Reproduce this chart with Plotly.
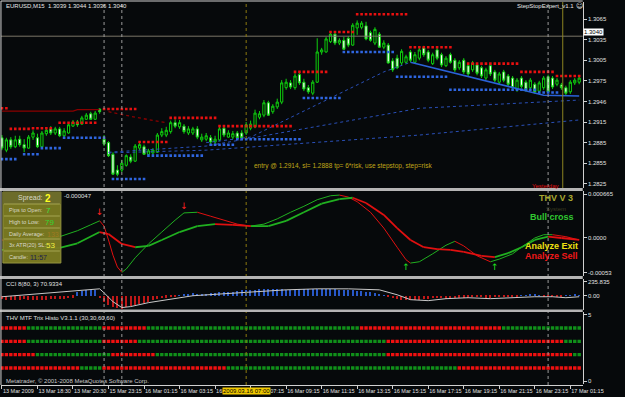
import plotly.graph_objects as go

W, H = 625, 397
BG = "#06090b"
FONT = "Liberation Sans"

# ---------------- data ----------------
bars = list(range(131))
tick_bars = [0, 8, 16, 24, 32, 40, 48, 56, 64, 72, 80, 88, 96, 104, 112, 120, 128]
tick_labels = ["13 Mar 2009", "13 Mar 18:30", "13 Mar 20:30", "15 Mar 23:15", "16 Mar 01:15",
               "16 Mar 03:15", "16 Mar 05:15", "16 Mar 07:15", "16 Mar 09:15", "16 Mar 11:15",
               "16 Mar 13:15", "16 Mar 15:15", "16 Mar 17:15", "16 Mar 19:15", "16 Mar 21:15",
               "16 Mar 23:15", "17 Mar 01:15"]

open_ = [1.2892, 1.2874, 1.2889, 1.2879, 1.2890, 1.2882, 1.2877, 1.2893, 1.2892, 1.2879,
         1.2898, 1.2905, 1.2899, 1.2905, 1.2895, 1.2899, 1.2909, 1.2915, 1.2912, 1.2919,
         1.2927, 1.2919, 1.2934, 1.2890, 1.2885, 1.2868, 1.2845, 1.2845, 1.2852, 1.2864,
         1.2858, 1.2877, 1.2879, 1.2868, 1.2870, 1.2871, 1.2896, 1.2896, 1.2901, 1.2914,
         1.2908, 1.2909, 1.2899, 1.2899, 1.2905, 1.2889, 1.2890, 1.2892, 1.2886, 1.2889,
         1.2906, 1.2893, 1.2893, 1.2899, 1.2899, 1.2899, 1.2906, 1.2908, 1.2922, 1.2925,
         1.2943, 1.2930, 1.2937, 1.2944, 1.2965, 1.2972, 1.2965, 1.2984, 1.2973, 1.2965,
         1.2957, 1.2973, 1.3017, 1.3017, 1.3032, 1.3043, 1.3030, 1.3034, 1.3037, 1.3027,
         1.3052, 1.3053, 1.3055, 1.3045, 1.3030, 1.3043, 1.3024, 1.3027, 1.3004, 1.3008,
         1.3001, 1.3002, 1.3017, 1.3002, 1.3008, 1.3023, 1.3017, 1.3000, 1.3020, 1.3013,
         1.2997, 1.3013, 1.3005, 1.2994, 1.3005, 1.2997, 1.2991, 1.2998, 1.2994, 1.2979,
         1.2997, 1.2988, 1.2973, 1.2988, 1.2982, 1.2979, 1.2962, 1.2979, 1.2973, 1.2965,
         1.2970, 1.2960, 1.2965, 1.2981, 1.2979, 1.2970, 1.2969, 1.2965, 1.2959, 1.2972,
         1.2973]
high = [1.2896, 1.2892, 1.2893, 1.2895, 1.2895, 1.2890, 1.2896, 1.2903, 1.2898, 1.2902,
        1.2906, 1.2909, 1.2908, 1.2908, 1.2906, 1.2914, 1.2918, 1.2918, 1.2924, 1.2928,
        1.2930, 1.2931, 1.2935, 1.2896, 1.2887, 1.2871, 1.2852, 1.2860, 1.2868, 1.2868,
        1.2883, 1.2885, 1.2882, 1.2876, 1.2877, 1.2899, 1.2906, 1.2908, 1.2917, 1.2919,
        1.2918, 1.2912, 1.2909, 1.2908, 1.2909, 1.2898, 1.2899, 1.2896, 1.2895, 1.2908,
        1.2909, 1.2903, 1.2902, 1.2902, 1.2903, 1.2915, 1.2917, 1.2933, 1.2931, 1.2947,
        1.2946, 1.2941, 1.2949, 1.2976, 1.2978, 1.2976, 1.2986, 1.2988, 1.2978, 1.2969,
        1.2976, 1.3037, 1.3023, 1.3039, 1.3046, 1.3046, 1.3037, 1.3039, 1.3040, 1.3059,
        1.3063, 1.3062, 1.3061, 1.3048, 1.3053, 1.3046, 1.3034, 1.3030, 1.3008, 1.3013,
        1.3021, 1.3013, 1.3020, 1.3017, 1.3023, 1.3026, 1.3020, 1.3016, 1.3023, 1.3016,
        1.3011, 1.3016, 1.3008, 1.3005, 1.3008, 1.3000, 1.3004, 1.3001, 1.2997, 1.2994,
        1.3000, 1.2991, 1.2988, 1.2991, 1.2985, 1.2982, 1.2979, 1.2982, 1.2976, 1.2979,
        1.2973, 1.2975, 1.2982, 1.2984, 1.2982, 1.2979, 1.2972, 1.2968, 1.2976, 1.2979,
        1.2982]
low = [1.2874, 1.2871, 1.2876, 1.2877, 1.2879, 1.2871, 1.2876, 1.2889, 1.2877, 1.2877,
       1.2895, 1.2896, 1.2896, 1.2893, 1.2892, 1.2898, 1.2908, 1.2908, 1.2911, 1.2918,
       1.2918, 1.2918, 1.2927, 1.2880, 1.2864, 1.2838, 1.2836, 1.2842, 1.2850, 1.2855,
       1.2857, 1.2874, 1.2867, 1.2866, 1.2867, 1.2870, 1.2893, 1.2893, 1.2898, 1.2906,
       1.2905, 1.2898, 1.2896, 1.2896, 1.2890, 1.2886, 1.2887, 1.2883, 1.2883, 1.2887,
       1.2893, 1.2892, 1.2890, 1.2889, 1.2889, 1.2896, 1.2903, 1.2906, 1.2919, 1.2922,
       1.2924, 1.2927, 1.2934, 1.2941, 1.2962, 1.2963, 1.2962, 1.2969, 1.2960, 1.2956,
       1.2954, 1.2972, 1.3013, 1.3016, 1.3030, 1.3027, 1.3027, 1.3020, 1.3024, 1.3026,
       1.3042, 1.3050, 1.3034, 1.3032, 1.3027, 1.3023, 1.3021, 1.3000, 1.2988, 1.2992,
       1.2998, 1.3000, 1.3002, 1.3000, 1.3005, 1.3010, 1.3002, 1.2998, 1.3005, 1.2995,
       1.2995, 1.3000, 1.2988, 1.2991, 1.2985, 1.2982, 1.2988, 1.2983, 1.2979, 1.2976,
       1.2982, 1.2973, 1.2970, 1.2973, 1.2967, 1.2962, 1.2959, 1.2964, 1.2959, 1.2962,
       1.2956, 1.2957, 1.2962, 1.2957, 1.2963, 1.2967, 1.2962, 1.2954, 1.2956, 1.2969,
       1.2970]
close = [1.2877, 1.2889, 1.2879, 1.2889, 1.2882, 1.2877, 1.2893, 1.2899, 1.2879, 1.2899,
         1.2903, 1.2899, 1.2905, 1.2895, 1.2902, 1.2911, 1.2915, 1.2911, 1.2921, 1.2925,
         1.2919, 1.2928, 1.2930, 1.2883, 1.2866, 1.2839, 1.2839, 1.2855, 1.2866, 1.2858,
         1.2880, 1.2882, 1.2868, 1.2873, 1.2874, 1.2896, 1.2901, 1.2903, 1.2914, 1.2909,
         1.2914, 1.2901, 1.2905, 1.2905, 1.2893, 1.2893, 1.2895, 1.2886, 1.2890, 1.2905,
         1.2896, 1.2899, 1.2898, 1.2892, 1.2892, 1.2911, 1.2912, 1.2928, 1.2927, 1.2943,
         1.2925, 1.2938, 1.2944, 1.2972, 1.2973, 1.2966, 1.2982, 1.2972, 1.2963, 1.2959,
         1.2973, 1.3017, 1.3020, 1.3036, 1.3043, 1.3030, 1.3034, 1.3021, 1.3027, 1.3056,
         1.3059, 1.3059, 1.3036, 1.3034, 1.3050, 1.3024, 1.3030, 1.3001, 1.2991, 1.2994,
         1.3018, 1.3010, 1.3005, 1.3013, 1.3020, 1.3013, 1.3005, 1.3013, 1.3008, 1.2998,
         1.3008, 1.3002, 1.2991, 1.3002, 1.2988, 1.2985, 1.3001, 1.2986, 1.2982, 1.2991,
         1.2985, 1.2976, 1.2985, 1.2976, 1.2970, 1.2965, 1.2976, 1.2967, 1.2962, 1.2976,
         1.2959, 1.2972, 1.2979, 1.2959, 1.2966, 1.2976, 1.2965, 1.2957, 1.2973, 1.2976,
         1.2979]

price_ticks = [1.3065, 1.3035, 1.3005, 1.2975, 1.2945, 1.2915, 1.2885, 1.2855, 1.2825]
price_labels = ["1.3065", "1.3035", "1.3005", "1.2975", "1.2946", "1.2915", "1.2885", "1.2855", "1.2825"]
bid_price = 1.3040

# stepstop levels: (first bar, last bar, price)
stop_upper = [(0, 1, 1.2935), (2, 6, 1.2905), (7, 11, 1.2906), (13, 21, 1.2914), (23, 30, 1.2934),
              (31, 37, 1.2886), (38, 48, 1.2921), (49, 65, 1.2909), (66, 73, 1.2988), (74, 79, 1.3046),
              (80, 91, 1.3072), (92, 101, 1.3024), (105, 116, 1.3000), (117, 124, 1.2988), (125, 130, 1.2982)]
stop_lower = [(0, 3, 1.2861), (5, 8, 1.2868), (9, 13, 1.2877), (14, 23, 1.2892), (25, 32, 1.2832),
              (33, 45, 1.2866), (47, 52, 1.2882), (53, 67, 1.2890), (68, 76, 1.2950), (77, 88, 1.3017),
              (89, 100, 1.2981), (101, 120, 1.2962), (121, 125, 1.2958)]
# dark red average line
red_avg_bars = [0, 16, 17, 22]
red_avg_vals = [1.2931, 1.2931, 1.2933, 1.2933]
red_avg2_bars = [24, 30, 37]
red_avg2_vals = [1.2930, 1.2922, 1.2914]
# blue averages
ma1_bars = [24, 46, 94, 130]
ma1_vals = [1.2870, 1.2874, 1.2896, 1.2918]
ma2_bars = [24, 46, 94, 130]
ma2_vals = [1.2871, 1.2880, 1.2935, 1.2947]
ma3_bars = [46, 56, 86, 92]
ma3_vals = [1.2885, 1.2893, 1.2988, 1.3002]
trend_bars = [92, 122, 130]
trend_vals = [1.3002, 1.2954, 1.2953]

# THV V3 panel
thv_bars = [0, 4, 8, 13, 17, 20, 22, 23, 24, 25, 26, 27, 28, 30, 33, 36, 39, 41, 44, 47, 50, 53, 56,
            59, 62, 65, 68, 71, 74, 76, 78, 80, 83, 86, 89, 91, 92, 94, 97, 100, 102, 104, 107, 110,
            112, 115, 117, 120, 122, 124, 127, 130]
thv_fast = [-0.00003, -0.00005, -0.00002, 0.00002, 0.00011, 0.00020, 0.00026, 0.00018, -0.00003,
            -0.00026, -0.00044, -0.00052, -0.00047, -0.00030, -0.00009, 0.00009, 0.00027, 0.00038,
            0.00039, 0.00033, 0.00027, 0.00021, 0.00018, 0.00021, 0.00029, 0.00039, 0.00048, 0.00058,
            0.00064, 0.00065, 0.00062, 0.00055, 0.00039, 0.00015, -0.00014, -0.00033, -0.00038,
            -0.00036, -0.00024, -0.00011, -0.00005, -0.00012, -0.00027, -0.00036, -0.00032,
            -0.00024, -0.00014, 0.00000, 0.00005, 0.00005, 0.00002, -0.00003]
thv_slow_bars = [0, 13, 17, 22, 24, 27, 30, 33, 36, 40, 44, 48, 52, 56, 60, 64, 68, 72, 76, 79, 82,
                 86, 89, 92, 95, 98, 101, 104, 108, 111, 114, 117, 120, 123, 126, 130]
thv_slow = [-0.00018, -0.00015, -0.00008, 0.00009, 0.00006, -0.00009, -0.00014, -0.00012,
            -0.00003, 0.00009, 0.00018, 0.00021, 0.00020, 0.00018, 0.00018, 0.00026, 0.00039,
            0.00052, 0.00059, 0.00061, 0.00053, 0.00035, 0.00015, -0.00003, -0.00014, -0.00017,
            -0.00018, -0.00021, -0.00027, -0.00029, -0.00023, -0.00014, -0.00003, 0.00002,
            0.00000, -0.00003]
sell_arrow_bars = [22, 41]
sell_arrow_vals = [0.00038, 0.00047]
buy_arrow_bars = [91, 111]
buy_arrow_vals = [-0.00045, -0.00045]
thv_ticks = [0.000665, 0.0, -0.00053]
thv_labels = ["0.000665", "0.0000", "-0.00053"]

# CCI panel
cci_bars = [0, 6, 13, 19, 22, 23, 25, 27, 29, 33, 37, 43, 50, 57, 64, 71, 78, 85, 89, 92, 96, 100,
            105, 110, 115, 120, 124, 127, 130]
cci_vals = [-17, 17, 67, 101, 118, 50, -101, -202, -185, -118, -67, 0, 34, 67, 101, 118, 118, 101,
            17, -67, -84, -50, -34, -50, -34, -17, -17, -34, -17]
cci_hist = [-60, -70, -80, -75, -70, -60, -65, -70, -75, -70, -65, -60, -55, -60, -50, -40, -30,
            60, 80, 90, 95, 100, -40, -100, -150, -200, -210, -220, -200, -180, -160, -140, -120,
            -100, -80, -60, -40, -30, -20, -10, 10, 20, 30, 40, 30, 20, 30, 40, 50, 60, 70, 60, 70,
            80, 90, 90, 100, 100, 110, 110, 120, 120, 110, 110, 100, 100, 100, 110, 120, 120, 110,
            110, 120, 120, 110, 110, 100, 100, 100, 90, 80, 80, 70, 60, 40, 20, 10, -10, -40, -60,
            -70, -80, -80, -80, -70, -60, -50, -40, -40, -40, -50, -50, -40, -30, -30, -30, -20,
            -20, -20, -30, -30, -20, -20, -20, -10, -10, -10, 10, 10, 20, 20, 10, -10, -20, -20,
            -20, -10, 10, 10, 20, 10]
cci_ticks = [235.835, 0.0, -235.403]
cci_labels = ["235.835", "0.00", "-235.403"]

# THV MTF Trix Histo rows: runs of (colour, bar count)
mtf_rows = [
    [("r", 6), ("g", 17), ("r", 10), ("g", 48), ("r", 32), ("g", 18)],
    [("r", 6), ("g", 17), ("r", 8), ("g", 56), ("r", 40), ("g", 4)],
    [("r", 8), ("g", 17), ("r", 10), ("g", 52), ("r", 42), ("g", 2)],
    [("r", 18), ("g", 5), ("r", 28), ("g", 52), ("r", 28)],
]
mtf_levels = [4, 3, 2, 1]

separator_bars = [23, 27, 123]
marker_bar = 55
marker_label = "2009.03.16 07:00"
expert_bar = 126.3

# ---------------- helpers ----------------
def X(px):
    return px / W


def Y(py):
    return 1 - py / H


def expand(segs):
    xs, ys = [], []
    for a, b, v in segs:
        for i in range(a, b + 1):
            xs.append(i)
            ys.append(v)
    return xs, ys


def split_dir(xs, vs):
    g = ([], [])
    r = ([], [])
    for i in range(len(xs) - 1):
        tgt = g if vs[i + 1] >= vs[i] else r
        tgt[0].extend([xs[i], xs[i + 1], None])
        tgt[1].extend([vs[i], vs[i + 1], None])
    return g, r


fig = go.Figure()

# ---------------- main price panel ----------------
fig.add_trace(go.Scatter(x=red_avg_bars, y=red_avg_vals, mode="lines", yaxis="y",
                         line=dict(color="#8a0000", width=1.3), hoverinfo="skip"))
fig.add_trace(go.Scatter(x=red_avg2_bars, y=red_avg2_vals, mode="lines", yaxis="y",
                         line=dict(color="#8a0000", width=1.3, dash="dot"), hoverinfo="skip"))
for bx, vy, wd in [(ma1_bars, ma1_vals, 1), (ma2_bars, ma2_vals, 1), (ma3_bars, ma3_vals, 1)]:
    fig.add_trace(go.Scatter(x=bx, y=vy, mode="lines", yaxis="y",
                             line=dict(color="#2a50b8", width=wd, dash="dot"), hoverinfo="skip"))
fig.add_trace(go.Scatter(x=trend_bars, y=trend_vals, mode="lines", yaxis="y",
                         line=dict(color="#2a62d8", width=1.6), hoverinfo="skip"))

ux, uy = expand(stop_upper)
lx, ly = expand(stop_lower)
fig.add_trace(go.Scatter(x=ux, y=uy, mode="markers", yaxis="y", hoverinfo="skip",
                         marker=dict(symbol="square", size=2.6, color="#e81010", line=dict(width=0))))
fig.add_trace(go.Scatter(x=lx, y=ly, mode="markers", yaxis="y", hoverinfo="skip",
                         marker=dict(symbol="square", size=2.6, color="#2f66e0", line=dict(width=0))))

fig.add_trace(go.Candlestick(x=bars, open=open_, high=high, low=low, close=close, yaxis="y",
                             increasing=dict(line=dict(color="#10d010", width=1), fillcolor="#000000"),
                             decreasing=dict(line=dict(color="#10d010", width=1), fillcolor="#ffffff"),
                             whiskerwidth=0, hoverinfo="skip"))

# ---------------- THV panel ----------------
for xs, vs, wd in [(thv_bars, thv_fast, 1.0), (thv_slow_bars, thv_slow, 1.8)]:
    g, r = split_dir(xs, vs)
    fig.add_trace(go.Scatter(x=g[0], y=g[1], mode="lines", yaxis="y2", hoverinfo="skip",
                             line=dict(color="#20b020", width=wd)))
    fig.add_trace(go.Scatter(x=r[0], y=r[1], mode="lines", yaxis="y2", hoverinfo="skip",
                             line=dict(color="#e01010", width=wd)))
fig.add_trace(go.Scatter(x=sell_arrow_bars, y=sell_arrow_vals, mode="text", yaxis="y2",
                         text=["↓"] * len(sell_arrow_bars), hoverinfo="skip",
                         textfont=dict(color="#ff2020", size=9, family="DejaVu Sans")))
fig.add_trace(go.Scatter(x=buy_arrow_bars, y=buy_arrow_vals, mode="text", yaxis="y2",
                         text=["↑"] * len(buy_arrow_bars), hoverinfo="skip",
                         textfont=dict(color="#20e020", size=9, family="DejaVu Sans")))

# ---------------- CCI panel ----------------
fig.add_trace(go.Bar(x=bars, y=cci_hist, yaxis="y3", width=0.3, hoverinfo="skip",
                     marker=dict(color=["#2858c8" if v > 0 else "#c01818" for v in cci_hist],
                                 line=dict(width=0))))
fig.add_trace(go.Scatter(x=cci_bars, y=cci_vals, mode="lines", yaxis="y3", hoverinfo="skip",
                         line=dict(color="#c8c8c8", width=1)))

# ---------------- MTF panel ----------------
for runs, lev in zip(mtf_rows, mtf_levels):
    cols = []
    for c, n in runs:
        cols += ["#f01010" if c == "r" else "#10901a"] * n
    fig.add_trace(go.Scatter(x=bars, y=[lev] * len(bars), mode="markers", yaxis="y4",
                             hoverinfo="skip",
                             marker=dict(symbol="square", size=3.4, color=cols, line=dict(width=0))))

# ---------------- shapes ----------------
shapes = []
shapes.append(dict(type="line", xref="paper", yref="y", x0=X(1), x1=X(603), y0=bid_price, y1=bid_price,
                   line=dict(color="#7a7668", width=1)))
for b in separator_bars:
    shapes.append(dict(type="line", xref="x", yref="paper", x0=b, x1=b, y0=Y(385), y1=Y(2),
                       line=dict(color="#9a9a9a", width=1, dash="dot")))
shapes.append(dict(type="line", xref="x", yref="paper", x0=marker_bar, x1=marker_bar, y0=Y(385), y1=Y(2),
                   line=dict(color="#8c7a10", width=1, dash="dot")))
shapes.append(dict(type="line", xref="x", yref="paper", x0=expert_bar, x1=expert_bar, y0=Y(188), y1=Y(2),
                   line=dict(color="#8c8420", width=1)))
for ytop, ybot in [(188, 191), (276, 279), (309.5, 312)]:
    shapes.append(dict(type="rect", xref="paper", yref="paper", x0=0, x1=X(603), y0=Y(ybot), y1=Y(ytop),
                       fillcolor="#b4b4b4", line=dict(width=0), layer="above"))
shapes.append(dict(type="line", xref="paper", yref="paper", x0=X(1), x1=X(1), y0=Y(385), y1=Y(1),
                   line=dict(color="#d0d0d0", width=1), layer="above"))
shapes.append(dict(type="line", xref="paper", yref="paper", x0=X(1), x1=X(603), y0=Y(1), y1=Y(1),
                   line=dict(color="#d0d0d0", width=1), layer="above"))
# info box
shapes.append(dict(type="rect", xref="paper", yref="paper", x0=X(3), x1=X(63), y0=Y(263), y1=Y(192),
                   fillcolor="#7c7c22", opacity=0.95, line=dict(color="#9c9c44", width=1), layer="above"))
shapes.append(dict(type="rect", xref="paper", yref="paper", x0=X(3), x1=X(63), y0=Y(204), y1=Y(192),
                   fillcolor="#6c6c2a", line=dict(width=0), layer="above"))
for yy in [204, 216, 228, 239, 251]:
    shapes.append(dict(type="line", xref="paper", yref="paper", x0=X(4), x1=X(62), y0=Y(yy), y1=Y(yy),
                       line=dict(color="#a4a450", width=1), layer="above"))

# ---------------- annotations ----------------
ann = []


def txt(px, py, s, color="#e0e0e0", size=6, anchor="left", bold=False, bg=None, family=FONT):
    a = dict(x=X(px), y=Y(py), xref="paper", yref="paper", text=("<b>%s</b>" % s) if bold else s,
             showarrow=False, xanchor=anchor, yanchor="middle",
             font=dict(color=color, size=size, family=family))
    if bg:
        a["bgcolor"] = bg
        a["borderpad"] = 0
    ann.append(a)


txt(4, 6, "EURUSD,M15  1.3039 1.3044 1.3036 1.3040", "#e8e8e8", 6)
txt(596, 6, "StepStopExpert_v1.1", "#e8e8e8", 6, anchor="right")
txt(600, 6, "☺", "#e8e8e8", 7, anchor="center", family="DejaVu Sans")
txt(261, 166, "entry @ 1.2914, sl= 1.2888 tp= 6*risk, use stepstop, step=risk", "#c0a818", 6.5)
txt(548, 186, "Yesterday", "#e01010", 6)
ann.append(dict(x=1.0, y=bid_price, xref="paper", yref="y", text="1.3040", showarrow=False,
                xanchor="right", yanchor="bottom", bgcolor="#ffffff", borderpad=0,
                font=dict(color="#000000", size=6, family=FONT)))

txt(64, 196, "-0.000047", "#e0e0e0", 6)
txt(575, 198, "THV V 3", "#a8a830", 9, anchor="center", bold=True)
txt(575, 209, "System", "#3c3c20", 6, anchor="center")
txt(571, 217, "Bull cross", "#30c830", 9, anchor="center", bold=True)
txt(571, 246, "Analyze Exit", "#f0e010", 9, anchor="center", bold=True)
txt(571, 256, "Analyze Sell", "#f01818", 9, anchor="center", bold=True)

txt(17, 198, "Spread:", "#d8d8c8", 7)
txt(44, 198, "2", "#ffff20", 10, bold=True)
txt(7, 210, "Pips to Open:", "#d8d8c8", 5.5)
txt(46, 210, "7", "#40e040", 8)
txt(7, 222, "High to Low:", "#d8d8c8", 5.5)
txt(44, 222, "79", "#30d830", 8)
txt(7, 234, "Daily Average:", "#d8d8c8", 5.5)
txt(47, 234, "133", "#a07a20", 7)
txt(7, 245, "3x ATR(20) SL:", "#d8d8c8", 5.5)
txt(46, 245, "53", "#f0f040", 8)
txt(7, 257, "Candle:", "#d8d8c8", 5.5)
txt(29, 257, "11:57", "#202050", 7)

txt(4, 284, "CCI 8(80, 3) 70.9334", "#e0e0e0", 6)
txt(4, 318, "THV MTF Trix Histo V3.1.1 (30,30,60,60)", "#e0e0e0", 6)
txt(4, 381, "Metatrader, © 2001-2008 MetaQuotes Software Corp.", "#c8c8c8", 6)
ann.append(dict(x=marker_bar, y=Y(391), xref="x", yref="paper", text=marker_label, showarrow=False,
                xanchor="center", yanchor="middle", bgcolor="#f0c800", borderpad=0,
                font=dict(color="#000000", size=6, family=FONT)))

axis_font = dict(color="#e0e0e0", size=6, family=FONT)
common_y = dict(side="right", anchor="x", showgrid=False, zeroline=False, showline=True,
                linecolor="#d0d0d0", linewidth=1, ticks="outside", ticklen=3, tickcolor="#d0d0d0",
                tickfont=axis_font, fixedrange=True)

fig.update_layout(
    width=W, height=H, margin=dict(l=0, r=0, t=0, b=0),
    paper_bgcolor=BG, plot_bgcolor=BG, showlegend=False,
    font=dict(family=FONT, color="#e0e0e0"),
    xaxis=dict(domain=[X(1), X(603)], range=[-0.22, 130.8], anchor="free", position=Y(385),
               tickvals=tick_bars, ticktext=tick_labels, ticks="outside", ticklen=3, tickangle=0,
               tickcolor="#d0d0d0", tickfont=dict(color="#e0e0e0", size=5.5, family=FONT),
               ticklabelposition="outside right",
               showgrid=False, zeroline=False, showline=True, linecolor="#d0d0d0",
               rangeslider=dict(visible=False), fixedrange=True),
    yaxis=dict(domain=[Y(188), Y(2)], range=[1.28189, 1.30898], tickvals=price_ticks,
               ticktext=price_labels, **common_y),
    yaxis2=dict(domain=[Y(276), Y(191)], range=[-0.000576, 0.000712], tickvals=thv_ticks,
                ticktext=thv_labels, **common_y),
    yaxis3=dict(domain=[Y(309.5), Y(279)], range=[-235, 286], tickvals=cci_ticks,
                ticktext=cci_labels, **common_y),
    yaxis4=dict(domain=[Y(384), Y(312)], range=[-0.2, 5.2], tickvals=[5, 0], ticktext=["5", "0"],
                **common_y),
    shapes=shapes, annotations=ann, bargap=0,
)

fig.write_html("out.html")
